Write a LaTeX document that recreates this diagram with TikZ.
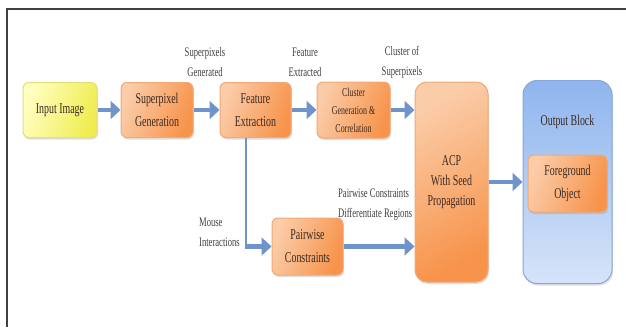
\documentclass[tikz,border=0pt]{standalone}
\usepackage{fontspec}
\setmainfont{Liberation Serif}
\newfontfamily\condf[FakeStretch=0.66]{Liberation Serif}
\usetikzlibrary{arrows.meta,shadows}
\definecolor{yel1}{HTML}{FFFFC0}
\definecolor{yel2}{HTML}{F0EC50}
\definecolor{yelb}{HTML}{E6DE78}
\definecolor{or1}{HTML}{FBCCA8}
\definecolor{or2}{HTML}{F7934A}
\definecolor{orb}{HTML}{F2A878}
\definecolor{bl1}{HTML}{D6E4F8}
\definecolor{bl2}{HTML}{8FB5EE}
\definecolor{blb}{HTML}{86A8DA}
\definecolor{arrc}{HTML}{6F94CC}
\definecolor{txt}{HTML}{3A2A20}
\definecolor{frm}{HTML}{404040}
\tikzset{
  boxbase/.style={rounded corners=6pt, line width=1pt, text=txt, align=center, inner sep=0pt,
    drop shadow={opacity=0.25, shadow xshift=1pt, shadow yshift=-2pt},
    font=\condf\fontsize{15}{23}\selectfont},
  obox/.style={boxbase, draw=orb, left color=or1, right color=or2, shading angle=70},
  ybox/.style={boxbase, draw=yelb, left color=yel1, right color=yel2, shading angle=70},
  bbox/.style={boxbase, rounded corners=14pt, draw=blb, top color=bl2, bottom color=bl1},
  lab/.style={text=frm, font=\condf\fontsize{13}{20}\selectfont, inner sep=0pt},
  arr/.style={draw=arrc, line width=4.5pt, -{Triangle[length=10pt,width=18pt]}},
  thinln/.style={draw=arrc, line width=2pt}
}
\begin{document}
\begin{tikzpicture}[x=1pt,y=-1pt]
\useasboundingbox (0,0) rectangle (626,327);
\fill[white] (0,0) rectangle (626,327);
\draw[frm, line width=2pt] (7,327) -- (7,9) -- (626,9);

% labels
\node[lab, align=center] (l1) at (205,62) {Superpixels\\Generated};
\node[lab, align=center] (l2) at (305,62) {Feature\\Extracted};
\node[lab, align=center] (l3) at (402,62) {Cluster of\\Superpixels};
\node[lab, align=left, anchor=west] (l4) at (199,232) {Mouse\\Interactions};
\node[lab, align=left, anchor=west] (l5) at (338,205) {Pairwise Constraints\\Differentiate Regions};

% boxes
\node[ybox, minimum width=74pt, minimum height=55pt] (inp) at (60,110) {Input Image};
\node[obox, minimum width=72pt, minimum height=55pt] (sp) at (157,110) {Superpixel\\Generation};
\node[obox, minimum width=71pt, minimum height=55pt] (fe) at (255.5,110) {Feature\\Extraction};
\node[obox, minimum width=73pt, minimum height=56pt, font=\condf\fontsize{12}{18}\selectfont] (clu) at (353.5,110) {Cluster\\Generation \&\\Correlation};
\node[obox, minimum width=71pt, minimum height=57pt] (pw) at (307.5,246.5) {Pairwise\\Constraints};
\node[obox, rounded corners=12pt, minimum width=73pt, minimum height=200pt, font=\condf\fontsize{15}{20}\selectfont, shading angle=30] (acp) at (451.5,182) {ACP\\With Seed\\Propagation};
\node[bbox, minimum width=89pt, minimum height=203pt] (out) at (567.5,182) {};
\node[lab, text=txt, font=\condf\fontsize{15}{20}\selectfont] (outt) at (567.5,122) {Output Block};
\node[obox, minimum width=79pt, minimum height=57pt, rounded corners=5pt] (fg) at (567.5,183.5) {Foreground\\Object};

% connectors
\coordinate (mi) at (246,246.5);
\draw[arr] (inp) -- (sp);
\draw[arr] (sp) -- (fe);
\draw[arr] (fe) -- (clu);
\draw[arr] (clu.east) -- (clu.east -| acp.west);
\draw[thinln] (fe.south -| mi) -- ([yshift=2pt]mi);
\draw[arr] ([xshift=-1pt]mi) -- (pw.west);
\draw[arr] (pw.east) -- (pw.east -| acp.west);
\draw[arr] (acp.east) -- (out.west);
\end{tikzpicture}
\end{document}
